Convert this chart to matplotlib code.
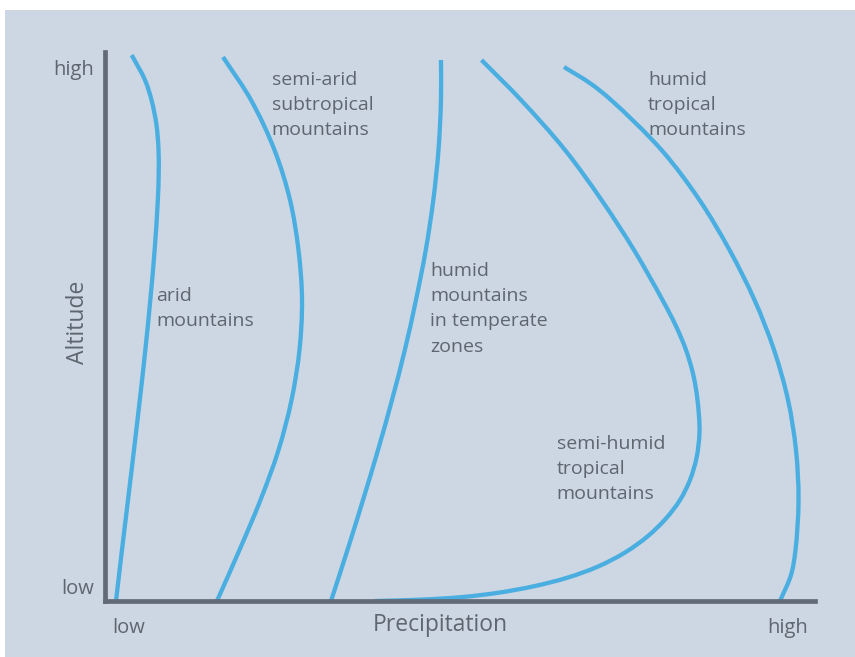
import matplotlib
matplotlib.use('Agg')
import matplotlib.pyplot as plt
import numpy as np
from matplotlib.path import Path
from matplotlib.patches import PathPatch, Rectangle

plt.rcParams['font.family'] = ['Open Sans', 'DejaVu Sans']

# Curves: precipitation (0 = low, 1 = high) against altitude (0 = low, 1 = high)
arid_x = [0.0155, 0.0239, 0.0324, 0.0408, 0.0490, 0.0568, 0.0638, 0.0699, 0.0744, 0.0756, 0.0754,
          0.0725, 0.0655, 0.0563, 0.0376]
arid_y = [0.0000, 0.0929, 0.1840, 0.2750, 0.3661, 0.4572, 0.5483, 0.6393, 0.7304, 0.7760, 0.8215,
          0.8670, 0.9126, 0.9490, 0.9945]

semiarid_x = [0.1577, 0.1894, 0.2190, 0.2444, 0.2627, 0.2739, 0.2775, 0.2725, 0.2606, 0.2387,
              0.2056, 0.1662]
semiarid_y = [0.0000, 0.0929, 0.1840, 0.2750, 0.3661, 0.4572, 0.5483, 0.6393, 0.7304, 0.8215,
              0.9126, 0.9909]

temperate_x = [0.3183, 0.3415, 0.3634, 0.3845, 0.4042, 0.4223, 0.4380, 0.4518, 0.4624, 0.4697,
               0.4732, 0.4732]
temperate_y = [0.0000, 0.0929, 0.1840, 0.2750, 0.3661, 0.4572, 0.5483, 0.6393, 0.7304, 0.8215,
               0.9126, 0.9854]

semihumid_x = [0.3803, 0.4437, 0.5042, 0.5563, 0.6056, 0.6521, 0.6944, 0.7324, 0.7648, 0.7901,
               0.8099, 0.8239, 0.8331, 0.8373, 0.8345, 0.8286, 0.8183, 0.8035, 0.7852, 0.7451,
               0.6993, 0.6479, 0.5859, 0.5303]
semihumid_y = [0.0000, 0.0024, 0.0073, 0.0155, 0.0273, 0.0428, 0.0628, 0.0883, 0.1184, 0.1503,
               0.1840, 0.2204, 0.2605, 0.3078, 0.3661, 0.4117, 0.4572, 0.5027, 0.5483, 0.6393,
               0.7304, 0.8215, 0.9126, 0.9854]

tropical_x = [0.9507, 0.9662, 0.9725, 0.9768, 0.9732, 0.9620, 0.9423, 0.9148, 0.8796, 0.8373,
              0.7838, 0.7127, 0.6838, 0.6465]
tropical_y = [0.0000, 0.0474, 0.0929, 0.1840, 0.2750, 0.3661, 0.4572, 0.5483, 0.6393, 0.7304,
              0.8215, 0.9126, 0.9426, 0.9727]

labels = ['semi-arid\nsubtropical\nmountains', 'arid\nmountains',
          'humid\nmountains\nin temperate\nzones', 'humid\ntropical\nmountains',
          'semi-humid\ntropical\nmountains']
label_x = [0.235, 0.072, 0.458, 0.765, 0.636]
label_y = [0.848, 0.501, 0.454, 0.848, 0.185]   # baseline of the last line

x_ticks = [0.034, 0.961]
y_ticks = [0.027, 0.971]
tick_labels = ['low', 'high']

line_color = '#4baee1'
axis_color = '#626a75'
text_color = '#5e6670'
panel_color = '#cdd7e3'


def smooth_path(ax, xs, ys):
    # centripetal Catmull-Rom through the points (spacing measured on screen),
    # drawn as cubic bezier segments in data coordinates
    P = ax.transData.transform(np.column_stack([xs, ys]))
    P = np.vstack([2 * P[0] - P[1], P, 2 * P[-1] - P[-2]])
    verts = [P[1]]
    for i in range(1, len(P) - 2):
        p0, p1, p2, p3 = P[i - 1], P[i], P[i + 1], P[i + 2]
        d1 = np.linalg.norm(p1 - p0) ** 0.5
        d2 = np.linalg.norm(p2 - p1) ** 0.5
        d3 = np.linalg.norm(p3 - p2) ** 0.5
        b1 = (d1 ** 2 * p2 - d2 ** 2 * p0 + (2 * d1 ** 2 + 3 * d1 * d2 + d2 ** 2) * p1) / (3 * d1 * (d1 + d2))
        b2 = (d3 ** 2 * p1 - d2 ** 2 * p3 + (2 * d3 ** 2 + 3 * d3 * d2 + d2 ** 2) * p2) / (3 * d3 * (d3 + d2))
        verts += [b1, b2, p2]
    verts = ax.transData.inverted().transform(np.array(verts))
    codes = [Path.MOVETO] + [Path.CURVE4] * (len(verts) - 1)
    return Path(verts, codes)


fig = plt.figure(figsize=(8.55, 6.57), dpi=100, facecolor='white')
fig.patches.append(Rectangle((5 / 855, 0), 850 / 855, 647 / 657, transform=fig.transFigure,
                             facecolor=panel_color, edgecolor='none', zorder=-1))

ax = fig.add_axes([105 / 855, 56 / 657, 710 / 855, 549 / 657])
ax.set_facecolor('none')
ax.set_xlim(0, 1)
ax.set_ylim(0, 1)

for xs, ys in [(arid_x, arid_y), (semiarid_x, semiarid_y), (temperate_x, temperate_y),
               (semihumid_x, semihumid_y), (tropical_x, tropical_y)]:
    ax.add_patch(PathPatch(smooth_path(ax, xs, ys), facecolor='none', edgecolor=line_color,
                           lw=3.1, capstyle='butt', zorder=2))

for txt, x, y in zip(labels, label_x, label_y):
    ax.text(x, y, txt, ha='left', va='baseline', fontsize=14, color=text_color,
            linespacing=1.52)

for side in ['top', 'right']:
    ax.spines[side].set_visible(False)
for side in ['left', 'bottom']:
    ax.spines[side].set_color(axis_color)
    ax.spines[side].set_linewidth(3.4)
    ax.spines[side].set_zorder(3)

ax.set_xticks(x_ticks)
ax.set_xticklabels(tick_labels)
ax.set_yticks(y_ticks)
ax.set_yticklabels(tick_labels)
ax.tick_params(length=0, labelsize=14.5, labelcolor=text_color)
ax.tick_params(axis='x', pad=12)
ax.tick_params(axis='y', pad=8)

ax.set_xlabel('Precipitation', fontsize=16.5, color=text_color)
ax.xaxis.set_label_coords(0.472, -0.044)
ax.xaxis.label.set_va('center')
ax.set_ylabel('Altitude', fontsize=16.5, color=text_color)
ax.yaxis.set_label_coords(-0.038, 0.507)
ax.yaxis.label.set_va('center')

fig.savefig('out.png', dpi=100, facecolor='white')
